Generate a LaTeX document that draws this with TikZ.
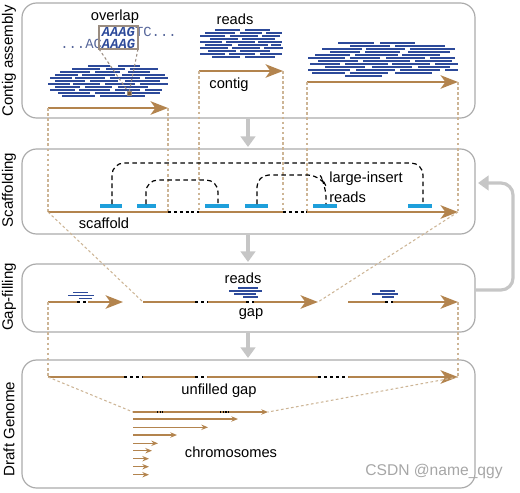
\documentclass[tikz,border=0pt]{standalone}
\usepackage{fontspec}
\setmainfont{Liberation Sans}
\newfontfamily\seqfont{Liberation Mono}
\usetikzlibrary{arrows.meta}
\definecolor{brn}{HTML}{B3844E}
\definecolor{rd}{HTML}{2D4A9A}
\definecolor{cy}{HTML}{1E9FDB}
\definecolor{pg}{HTML}{ABABAB}
\definecolor{ag}{HTML}{C6C6C6}
\definecolor{tn}{HTML}{CDB596}
\definecolor{sq}{HTML}{56669A}
\definecolor{bx}{HTML}{9A8C80}
\definecolor{wm}{HTML}{A6A6A6}
\tikzset{
  panel/.style={draw=pg, line width=0.9pt, rounded corners=11pt},
  ctg/.style={brn, line width=1.9pt, -{Stealth[length=13pt,width=10pt,inset=3.5pt]}},
  ctgplain/.style={brn, line width=1.9pt},
  tandot/.style={tn, line width=0.8pt, dash pattern=on 2pt off 1.8pt},
  readln/.style={rd, line width=1.5pt},
  bar/.style={cy, line width=2.3pt},
  gapdash/.style={black, line width=1.6pt, dash pattern=on 2.2pt off 2.2pt},
  pairln/.style={black, line width=0.9pt, dash pattern=on 3.5pt off 2.5pt, rounded corners=9pt},
  flow/.style={ag, line width=2.4pt, -{Triangle[length=8pt,width=11pt]}},
  chr/.style={brn, line width=1pt, -{Stealth[length=5pt,width=4pt]}},
  lab/.style={font=\fontsize{11}{13}\selectfont, inner sep=0pt},
  side/.style={lab, font=\fontsize{11.3}{13}\selectfont, rotate=90},
  seqtxt/.style={font=\seqfont\fontsize{10.4}{12}\selectfont, text=sq, inner sep=0pt, text height=6.8pt, text depth=0pt}
}
\begin{document}
\begin{tikzpicture}[x=0.75pt,y=-0.75pt]
\useasboundingbox (0,0) rectangle (520,492);

% panels
\draw[panel] (22,3) rectangle (475,118);
\draw[panel] (22,149) rectangle (475,234);
\draw[panel] (22,264) rectangle (475,332);
\draw[panel] (22,360) rectangle (475,488);

% side labels
\node[side] (l1) at (9,61) {Contig assembly};
\node[side] (l2) at (9,190) {Scaffolding};
\node[side] (l3) at (9,297) {Gap-filling};
\node[side] (l4) at (9,429) {Draft Genome};

% flow arrows
\coordinate (f1a) at (248,119); \coordinate (f1b) at (248,147);
\coordinate (f2a) at (248,235); \coordinate (f2b) at (248,262);
\coordinate (f3a) at (248,333); \coordinate (f3b) at (248,358);
\draw[flow] (f1a) -- (f1b);
\draw[flow] (f2a) -- (f2b);
\draw[flow] (f3a) -- (f3b);
\coordinate (fbA) at (475,290); \coordinate (fbB) at (478,183);
\draw[flow, rounded corners=9pt] (fbA) -- (513,290) -- (513,183) -- (fbB);

% ---------- Contig assembly ----------
% left cluster reads
\foreach \y/\a/\b in {66/88/110, 66/118/140,
  69/72/100, 69/106/125, 69/130/158,
  72/60/90, 72/95/120, 72/128/150,
  75/55/78, 75/82/115, 75/122/165,
  78/50/72, 78/75/105, 78/110/140, 78/145/168,
  81/55/85, 81/90/118, 81/125/160,
  84/48/70, 84/73/100, 84/105/135, 84/140/168,
  87/55/80, 87/85/112, 87/118/148,
  90/50/75, 90/79/110, 90/115/140, 90/145/162,
  93/58/90, 93/95/125, 93/132/160,
  96/62/95, 96/100/145}
  \draw[readln] (\a,\y) -- (\b,\y);
% middle cluster reads
\foreach \y/\a/\b in {30/215/240, 30/245/270,
  33/205/235, 33/240/262, 33/266/282,
  36/200/225, 36/230/258, 36/262/280,
  39/210/238, 39/242/275,
  42/200/222, 42/226/255, 42/258/282,
  45/205/232, 45/238/268, 45/271/281,
  48/200/228, 48/232/260, 48/264/283,
  51/208/236, 51/240/270,
  54/200/225, 54/229/255, 54/260/282,
  57/212/240, 57/245/275}
  \draw[readln] (\a,\y) -- (\b,\y);
% right cluster reads
\foreach \y/\a/\b in {43/338/374, 43/380/415,
  46/350/390, 46/395/445,
  49/322/362, 49/366/405, 49/410/455,
  52/330/360, 52/365/400, 52/408/450,
  55/315/350, 55/355/398, 55/402/440,
  58/308/345, 58/350/380, 58/386/425, 58/430/455,
  61/318/358, 61/363/410, 61/415/452,
  64/310/340, 64/345/388, 64/392/430, 64/435/458,
  67/325/365, 67/372/412, 67/418/450,
  70/308/350, 70/356/395, 70/400/440, 70/445/458,
  73/312/345, 73/350/388, 73/395/432,
  76/345/382}
  \draw[readln] (\a,\y) -- (\b,\y);

% contigs
\coordinate (c1s) at (48,108);  \coordinate (c1e) at (168,108);
\coordinate (c2s) at (199,71);  \coordinate (c2e) at (283,71);
\coordinate (c3s) at (307,82);  \coordinate (c3e) at (458,82);
\draw[ctg] (c1s) -- (c1e);
\draw[ctg] (c2s) -- (c2e);
\draw[ctg] (c3s) -- (c3e);

\node[lab] (overlap) at (115,17) {overlap};
\node[lab] (reads1) at (235,19) {reads};
\node[lab] (contig) at (229,85) {contig};

% overlap box
\node[seqtxt, anchor=west] (seqtop) at (101.5,32) {\textcolor{rd}{\textbf{\textit{AAAG}}}TC...};
\node[seqtxt, anchor=east] (seqbot) at (135.5,43.5) {...AC\textcolor{rd}{\textbf{\textit{AAAG}}}};
\coordinate (bxbl) at (99,49); \coordinate (bxbr) at (138,49);
\draw[bx, line width=0.9pt] (99,26) rectangle (138,49);
\coordinate (ovpt) at (129,93);
\draw[tandot, bx] (bxbl) -- (ovpt);
\draw[tandot, bx] (bxbr) -- (ovpt);
\draw[bx, fill=brn!70!black, line width=0.6pt] (127,91) rectangle (131,95);

% ---------- Scaffolding ----------
\coordinate (s1) at (48,212);  \coordinate (s2) at (168,212);
\coordinate (s3) at (199,212); \coordinate (s4) at (283,212);
\coordinate (s5) at (307,212); \coordinate (s6) at (458,212);
\draw[tandot] (c1s) -- (s1);
\draw[tandot] (c1e) -- (s2);
\draw[tandot] (c2s) -- (s3);
\draw[tandot] (c2e) -- (s4);
\draw[tandot] (c3s) -- (s5);
\draw[tandot] (c3e) -- (s6);
\draw[ctgplain] (s1) -- (s2);
\draw[gapdash] (s2) -- (s3);
\draw[ctgplain] (s3) -- (s4);
\draw[gapdash] (s4) -- (s5);
\draw[ctg] (s5) -- (s6);

% insert reads
\foreach \a/\b in {100/122, 137/156, 205/229, 245/268, 313/337, 408/432}
  \draw[bar] (\a,206) -- (\b,206);
\draw[pairln] (112,204) -- (112,163) -- (423,163) -- (423,204);
\draw[pairln] (146,204) -- (146,180) -- (218,180) -- (218,204);
\draw[pairln] (257,204) -- (257,175) -- (320,175) -- (326,186) -- (326,204);

\node[lab] (scaffold) at (104,223) {scaffold};
\node[lab, anchor=west] (li) at (329,179) {large-insert};
\node[lab, anchor=west] (lir) at (329,197) {reads};

% ---------- Gap-filling ----------
\coordinate (g1s) at (48,302);  \coordinate (g1e) at (123,302);
\coordinate (g2s) at (143,302); \coordinate (g2e) at (318,302);
\coordinate (g3s) at (348,302); \coordinate (g3e) at (458,302);
\draw[tandot] (s1) -- (g2s);
\draw[tandot] (s6) -- (g2e);
\draw[ctg] (g1s) -- (g1e);
\draw[ctg] (g2s) -- (g2e);
\draw[ctg] (g3s) -- (g3e);
\foreach \a/\b in {77/88, 195/208, 246/254, 385/393}
  \draw[white, line width=2.2pt] (\a,302) -- (\b,302);
\foreach \a/\b in {77/88, 195/208, 246/254, 385/393}
  \draw[black, line width=1.4pt, dash pattern=on 2.5pt off 2pt] (\a,302) -- (\b,302);
\foreach \y/\a/\b in {292.5/73/88, 295.5/68/94, 298.5/79/92,
  288/238/258, 291/229/262, 294/234/256, 297/243/258,
  291/380/395, 294/372/398, 297/382/394}
  \draw[readln, line width=1.3pt] (\a,\y) -- (\b,\y);
\node[lab] (reads3) at (243,278) {reads};
\node[lab] (gap) at (251,314) {gap};

% ---------- Draft genome ----------
\coordinate (d1s) at (48,377); \coordinate (d1e) at (458,377);
\draw[tandot] (g1s) -- (d1s);
\draw[tandot] (g3e) -- (d1e);
\draw[ctg] (d1s) -- (d1e);
\foreach \a/\b in {124/143, 195/207, 318/348}
  \draw[white, line width=2.2pt] (\a,377) -- (\b,377);
\foreach \a/\b in {124/143, 195/207, 318/348}
  \draw[black, line width=1.4pt, dash pattern=on 2.5pt off 2pt] (\a,377) -- (\b,377);
\node[lab] (unf) at (219,391) {unfilled gap};

\coordinate (ch1s) at (133,412); \coordinate (ch1e) at (268,412);
\draw[tandot] (d1s) -- (ch1s);
\draw[tandot] (d1e) -- (ch1e);
\draw[chr] (ch1s) -- (ch1e);
\foreach \a/\b in {157/163, 220/230}
  \draw[black, line width=0.8pt, dash pattern=on 1pt off 1pt] (\a,412) -- (\b,412);
\foreach \y/\e in {419/238, 427.3/208, 435/177, 443.3/158, 450.7/152, 458.7/149, 466.7/149, 474.7/149}
  \draw[chr] (133,\y) -- (\e,\y);
\node[lab] (chrom) at (231,452) {chromosomes};

\node[font=\fontsize{11.7}{13}\selectfont, text=wm, inner sep=0pt] (wmk) at (434,471) {CSDN @name\_qgy};
\end{tikzpicture}
\end{document}
